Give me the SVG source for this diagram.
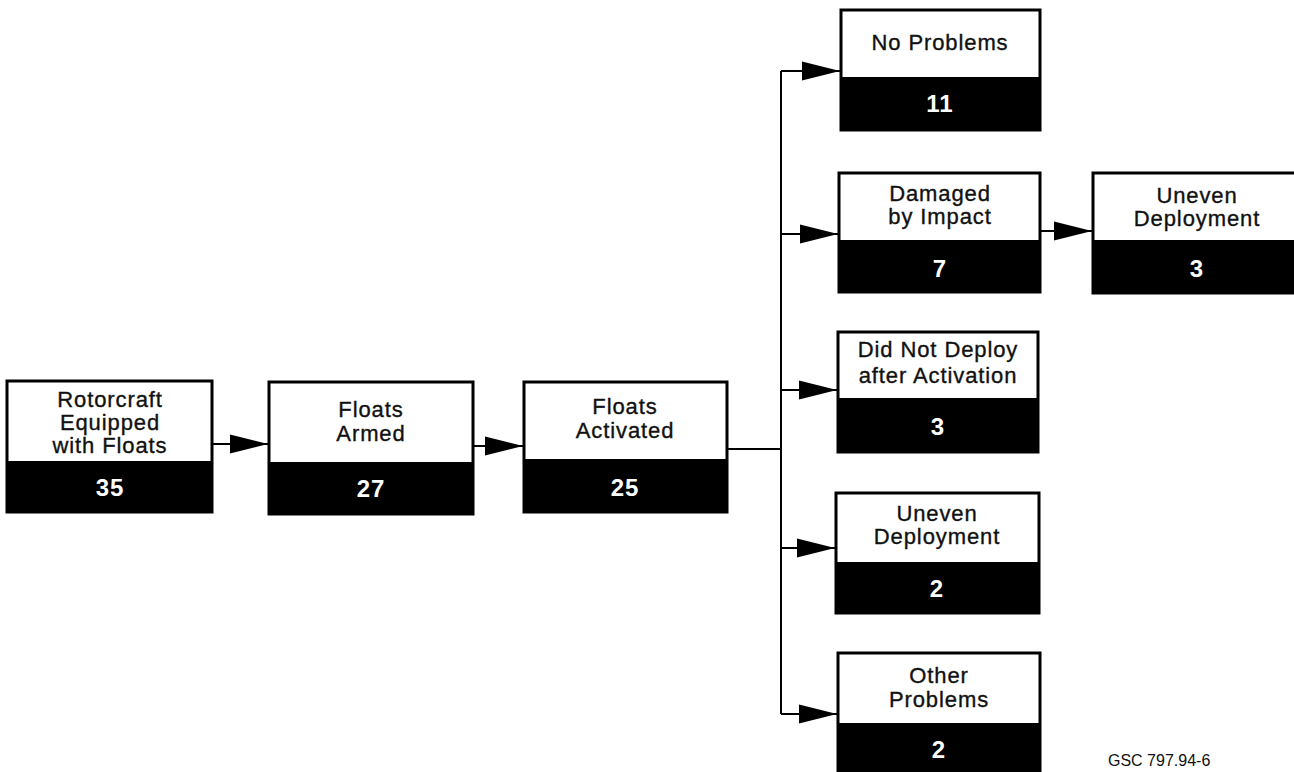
<svg xmlns="http://www.w3.org/2000/svg" width="1294" height="772" viewBox="0 0 1294 772">
<style>
.box{fill:#fff;stroke:#000;stroke-width:3}
.band{fill:#000}
.lbl{font-family:"Liberation Sans",Arial,sans-serif;font-size:22px;letter-spacing:0.9px;fill:#111;stroke:#111;stroke-width:0.35;text-anchor:middle}
.num{font-family:"Liberation Sans",Arial,sans-serif;font-size:24px;font-weight:bold;letter-spacing:1px;fill:#fff;text-anchor:middle}
.conn{fill:none;stroke:#000;stroke-width:2}
.note{font-family:"Liberation Sans",Arial,sans-serif;font-size:16px;fill:#111}
</style>
<defs>
<marker id="ah" markerUnits="userSpaceOnUse" markerWidth="38" markerHeight="20" viewBox="0 0 36 18" refX="36" refY="9" orient="auto">
<path d="M0,0 L36,9 L0,18 Z" fill="#000"/>
</marker>
</defs>
<rect width="1294" height="772" fill="#fff"/>
<g id="connectors">
<path class="conn" d="M212,444 H268" marker-end="url(#ah)"/>
<path class="conn" d="M473,446 H523" marker-end="url(#ah)"/>
<path class="conn" d="M727,449 H781"/>
<path class="conn" d="M781,71 V714"/>
<path class="conn" d="M781,71 H840" marker-end="url(#ah)"/>
<path class="conn" d="M781,234 H838" marker-end="url(#ah)"/>
<path class="conn" d="M781,390 H837" marker-end="url(#ah)"/>
<path class="conn" d="M781,548 H835" marker-end="url(#ah)"/>
<path class="conn" d="M781,714 H837" marker-end="url(#ah)"/>
<path class="conn" d="M1040,231 H1092" marker-end="url(#ah)"/>
</g>
<g id="n-rotorcraft">
<rect class="box" x="7" y="381" width="205" height="131"/>
<rect class="band" x="7" y="461" width="205" height="51"/>
<text class="lbl" x="110" y="407">Rotorcraft</text>
<text class="lbl" x="110" y="430">Equipped</text>
<text class="lbl" x="110" y="453">with Floats</text>
<text class="num" x="110" y="496">35</text>
</g>
<g id="n-armed">
<rect class="box" x="269" y="382" width="204" height="132"/>
<rect class="band" x="269" y="462" width="204" height="52"/>
<text class="lbl" x="371" y="417">Floats</text>
<text class="lbl" x="371" y="441">Armed</text>
<text class="num" x="371" y="497">27</text>
</g>
<g id="n-activated">
<rect class="box" x="524" y="382" width="203" height="130"/>
<rect class="band" x="524" y="459" width="203" height="53"/>
<text class="lbl" x="625" y="414">Floats</text>
<text class="lbl" x="625" y="438">Activated</text>
<text class="num" x="625" y="496">25</text>
</g>
<g id="n-noproblems">
<rect class="box" x="841" y="10" width="199" height="120"/>
<rect class="band" x="841" y="77" width="199" height="53"/>
<text class="lbl" x="940" y="50">No Problems</text>
<text class="num" x="940" y="112">11</text>
</g>
<g id="n-damaged">
<rect class="box" x="839" y="173" width="201" height="119"/>
<rect class="band" x="839" y="240" width="201" height="52"/>
<text class="lbl" x="940" y="201">Damaged</text>
<text class="lbl" x="940" y="224">by Impact</text>
<text class="num" x="940" y="277">7</text>
</g>
<g id="n-uneven-right">
<rect class="box" x="1093" y="173" width="205" height="120"/>
<rect class="band" x="1093" y="240" width="205" height="53"/>
<text class="lbl" x="1197" y="203">Uneven</text>
<text class="lbl" x="1197" y="226">Deployment</text>
<text class="num" x="1197" y="277">3</text>
</g>
<g id="n-didnotdeploy">
<rect class="box" x="838" y="332" width="200" height="120"/>
<rect class="band" x="838" y="398" width="200" height="54"/>
<text class="lbl" x="938" y="357">Did Not Deploy</text>
<text class="lbl" x="938" y="383">after Activation</text>
<text class="num" x="938" y="435">3</text>
</g>
<g id="n-uneven-lower">
<rect class="box" x="836" y="493" width="203" height="120"/>
<rect class="band" x="836" y="562" width="203" height="51"/>
<text class="lbl" x="937" y="521">Uneven</text>
<text class="lbl" x="937" y="544">Deployment</text>
<text class="num" x="937" y="597">2</text>
</g>
<g id="n-other">
<rect class="box" x="838" y="653" width="202" height="125"/>
<rect class="band" x="838" y="723" width="202" height="55"/>
<text class="lbl" x="939" y="683">Other</text>
<text class="lbl" x="939" y="707">Problems</text>
<text class="num" x="939" y="758">2</text>
</g>
<text class="note" x="1108" y="766">GSC 797.94-6</text>
</svg>
